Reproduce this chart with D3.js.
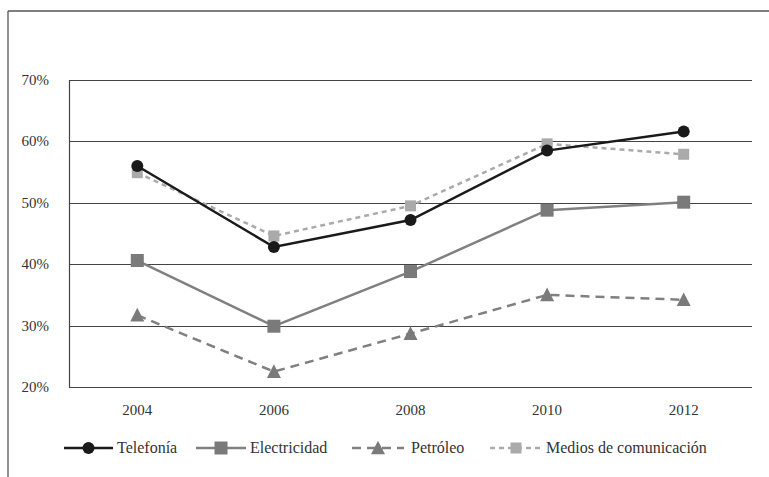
<!DOCTYPE html>
<html><head><meta charset="utf-8">
<script src="https://cdn.jsdelivr.net/npm/d3@7"></script>
<style>body{margin:0;background:#fff}svg{display:block}</style>
</head><body>
<svg id="c" width="769" height="477"></svg>
<script>
const years = ["2004","2006","2008","2010","2012"];
const telefonia = [56.0, 42.8, 47.2, 58.5, 61.6];
const electricidad = [40.6, 29.9, 38.8, 48.8, 50.1];
const petroleo = [31.7, 22.5, 28.7, 35.0, 34.2];
const medios = [54.9, 44.6, 49.5, 59.6, 57.9];
const yTicks = [20, 30, 40, 50, 60, 70];
const seriesNames = ["Telefonía","Electricidad","Petróleo","Medios de comunicación"];

const FONT = "'Liberation Serif', 'Times New Roman', serif";
const svg = d3.select("#c");
const L = 69, R = 752, T = 80, B = 387;
const x = d3.scalePoint().domain(years).range([L, R]).padding(0.5);
const y = d3.scaleLinear().domain([20, 70]).range([B, T]);

// outer frame
svg.append("line").attr("x1",8).attr("x2",8).attr("y1",11).attr("y2",477).attr("stroke","#555").attr("stroke-width",1.3);
svg.append("line").attr("x1",8).attr("x2",769).attr("y1",11).attr("y2",11).attr("stroke","#555").attr("stroke-width",1.3);

// grid
svg.append("g").selectAll("line").data(yTicks).join("line")
  .attr("x1",L).attr("x2",R).attr("y1",d=>Math.round(y(d))+0.5).attr("y2",d=>Math.round(y(d))+0.5)
  .attr("stroke","#444").attr("stroke-width",1.2);
svg.append("line").attr("x1",L+0.5).attr("x2",L+0.5).attr("y1",y(70)).attr("y2",y(20)).attr("stroke","#444").attr("stroke-width",1.2);

// y labels
svg.append("g").selectAll("text").data(yTicks).join("text")
  .attr("x",49).attr("y",d=>y(d)+5).attr("text-anchor","end")
  .style("font-family",FONT).attr("font-size",15).attr("fill","#333").text(d=>d+"%");
// x labels
svg.append("g").selectAll("text").data(years).join("text")
  .attr("x",d=>x(d)).attr("y",415).attr("text-anchor","middle")
  .style("font-family",FONT).attr("font-size",15).attr("fill","#333").text(d=>d);

const styles = [
  {data: telefonia, color:"#1a1a1a", dash:null, width:2.5, marker:"circle", mcolor:"#1a1a1a", size:6},
  {data: electricidad, color:"#808080", dash:null, width:2.5, marker:"square", mcolor:"#7a7a7a", size:13},
  {data: petroleo, color:"#808080", dash:"9,6", width:2.5, marker:"triangle", mcolor:"#7a7a7a", size:14},
  {data: medios, color:"#aaaaaa", dash:"5,4", width:2.5, marker:"square", mcolor:"#aaaaaa", size:11},
];
const line = d3.line().x((d,i)=>x(years[i])).y(d=>y(d));

function drawMarker(g, s, cx, cy) {
  if (s.marker === "circle") {
    g.append("circle").attr("cx",cx).attr("cy",cy).attr("r",s.size).attr("fill",s.mcolor);
  } else if (s.marker === "square") {
    g.append("rect").attr("x",cx-s.size/2).attr("y",cy-s.size/2).attr("width",s.size).attr("height",s.size).attr("fill",s.mcolor);
  } else {
    const h = s.size*0.9, w = s.size;
    g.append("path").attr("d",`M${cx},${cy-h/2-1}L${cx+w/2},${cy+h/2}L${cx-w/2},${cy+h/2}Z`).attr("fill",s.mcolor);
  }
}

[3,2,1,0].forEach(k=>{
  const s = styles[k];
  const g = svg.append("g");
  g.append("path").attr("d", line(s.data)).attr("fill","none").attr("stroke",s.color)
    .attr("stroke-width",s.width).attr("stroke-dasharray",s.dash);
  s.data.forEach((v,i)=>drawMarker(g, s, x(years[i]), y(v)));
});

// legend
const legX = [64, 196, 352, 490];
const legW = [49, 50, 52, 52];
const ly = 448;
styles.forEach((s,k)=>{
  const g = svg.append("g");
  g.append("line").attr("x1",legX[k]).attr("x2",legX[k]+legW[k]).attr("y1",ly).attr("y2",ly)
    .attr("stroke",s.color).attr("stroke-width",s.width).attr("stroke-dasharray",s.dash);
  drawMarker(g, s, legX[k]+legW[k]/2, ly);
  g.append("text").attr("x",legX[k]+legW[k]+(k===2?7:4)).attr("y",ly+5).style("font-family",FONT)
    .attr("font-size",16).attr("fill","#333").text(seriesNames[k]);
});
</script>
</body></html>
